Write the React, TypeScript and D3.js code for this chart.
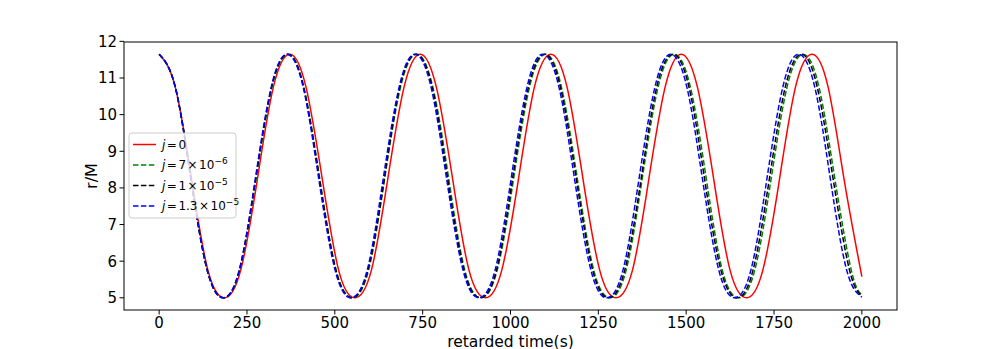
import React from "react";
import * as d3 from "d3";

// retarded time samples (s) and r/M, one pair per series
const tRed = [0, 46, 93, 139, 186, 232, 279, 325, 372, 418, 465, 511, 557, 604, 650, 697, 743, 789, 836, 882, 929, 975, 1022, 1068, 1115, 1161, 1207, 1254, 1300, 1347, 1393, 1440, 1486, 1532, 1579, 1625, 1672, 1718, 1765, 1811, 1858, 1904, 1950, 2000];
const rRed = [11.65, 10.75, 8.2, 5.75, 5.0, 5.75, 8.2, 10.75, 11.65, 10.75, 8.2, 5.75, 5.0, 5.75, 8.2, 10.75, 11.65, 10.75, 8.2, 5.75, 5.0, 5.75, 8.2, 10.75, 11.65, 10.75, 8.2, 5.75, 5.0, 5.75, 8.2, 10.75, 11.65, 10.75, 8.2, 5.75, 5.0, 5.75, 8.2, 10.75, 11.65, 10.75, 8.2, 5.58];

const tGreen = [0, 46, 92, 137, 183, 229, 275, 321, 367, 412, 458, 504, 550, 596, 641, 687, 733, 779, 825, 870, 916, 962, 1008, 1054, 1100, 1145, 1191, 1237, 1283, 1329, 1374, 1420, 1466, 1512, 1558, 1603, 1649, 1695, 1741, 1787, 1833, 1878, 1924, 1970, 2000];
const rGreen = [11.65, 10.75, 8.2, 5.75, 5.0, 5.75, 8.2, 10.75, 11.65, 10.75, 8.2, 5.75, 5.0, 5.75, 8.2, 10.75, 11.65, 10.75, 8.2, 5.75, 5.0, 5.75, 8.2, 10.75, 11.65, 10.75, 8.2, 5.75, 5.0, 5.75, 8.2, 10.75, 11.65, 10.75, 8.2, 5.75, 5.0, 5.75, 8.2, 10.75, 11.65, 10.75, 8.2, 5.75, 5.08];

const tBlack = [0, 46, 91, 137, 183, 228, 274, 320, 366, 411, 457, 503, 548, 594, 640, 685, 731, 777, 822, 868, 914, 960, 1005, 1051, 1097, 1142, 1188, 1234, 1279, 1325, 1371, 1416, 1462, 1508, 1553, 1599, 1645, 1690, 1736, 1782, 1828, 1873, 1919, 1965, 2000];
const rBlack = [11.65, 10.75, 8.2, 5.75, 5.0, 5.75, 8.2, 10.75, 11.65, 10.75, 8.2, 5.75, 5.0, 5.75, 8.2, 10.75, 11.65, 10.75, 8.2, 5.75, 5.0, 5.75, 8.2, 10.75, 11.65, 10.75, 8.2, 5.75, 5.0, 5.75, 8.2, 10.75, 11.65, 10.75, 8.2, 5.75, 5.0, 5.75, 8.2, 10.75, 11.65, 10.75, 8.2, 5.75, 5.05];

const tBlue = [0, 46, 91, 137, 182, 228, 273, 319, 364, 410, 455, 501, 546, 592, 637, 683, 728, 774, 819, 865, 910, 956, 1001, 1047, 1092, 1138, 1183, 1229, 1274, 1320, 1365, 1411, 1456, 1502, 1547, 1593, 1638, 1684, 1729, 1775, 1820, 1866, 1911, 1957, 2000];
const rBlue = [11.65, 10.75, 8.2, 5.75, 5.0, 5.75, 8.2, 10.75, 11.65, 10.75, 8.2, 5.75, 5.0, 5.75, 8.2, 10.75, 11.65, 10.75, 8.2, 5.75, 5.0, 5.75, 8.2, 10.75, 11.65, 10.75, 8.2, 5.75, 5.0, 5.75, 8.2, 10.75, 11.65, 10.75, 8.2, 5.75, 5.0, 5.75, 8.2, 10.75, 11.65, 10.75, 8.2, 5.75, 5.02];

const xTicks = [0, 250, 500, 750, 1000, 1250, 1500, 1750, 2000];
const yTicks = [5, 6, 7, 8, 9, 10, 11, 12];

const series = [
  { t: tRed, r: rRed, color: "#ff0000", dash: null, base: "0", exp: null },
  { t: tGreen, r: rGreen, color: "#008000", dash: "5.5,2.4", base: "7", exp: "\u22126" },
  { t: tBlack, r: rBlack, color: "#000000", dash: "5.5,2.4", base: "1", exp: "\u22125" },
  { t: tBlue, r: rBlue, color: "#0000ff", dash: "5.5,2.4", base: "1.3", exp: "\u22125" },
];

const W = 997;
const H = 349;
const left = 124, right = 897, top = 42, bottom = 310;
const font = "DejaVu Sans, sans-serif";

export default function App() {
  const x = d3.scaleLinear().domain([-100, 2100]).range([left, right]);
  const y = d3.scaleLinear().domain([4.6675, 11.9825]).range([bottom, top]);

  const line = (t: number[], r: number[]) =>
    d3
      .line<number>()
      .x((d, i) => x(t[i]))
      .y((d) => y(d))
      .curve(d3.curveNatural)(r) || "";

  return (
    <svg width={W} height={H} style={{ position: "absolute", left: 0, top: 0, background: "#fff" }} fontFamily={font}>
      <defs>
        <clipPath id="plot">
          <rect x={left} y={top} width={right - left} height={bottom - top} />
        </clipPath>
      </defs>
      <g clipPath="url(#plot)">
        {series.map((s, i) => (
          <path key={i} d={line(s.t, s.r)} fill="none" stroke={s.color} strokeWidth={1.5}
            strokeDasharray={s.dash || undefined} />
        ))}
      </g>
      <rect x={left} y={top} width={right - left} height={bottom - top} fill="none" stroke="#000" strokeWidth={1} />

      {xTicks.map((v) => (
        <g key={v} transform={`translate(${x(v)},${bottom})`}>
          <line y2={4.5} stroke="#000" />
          <text y={18} textAnchor="middle" fontSize={15}>{v}</text>
        </g>
      ))}
      {yTicks.map((v) => (
        <g key={v} transform={`translate(${left},${y(v)})`}>
          <line x2={-4.5} stroke="#000" />
          <text x={-7} dy="0.36em" textAnchor="end" fontSize={15}>{v}</text>
        </g>
      ))}

      <text x={(left + right) / 2} y={346.5} textAnchor="middle" fontSize={15.5}>retarded time(s)</text>
      <text transform={`translate(${97},${(top + bottom) / 2}) rotate(-90)`} textAnchor="middle" fontSize={16}>r/M</text>

      <g>
        <rect x={129} y={133} width={107} height={85} rx={3} fill="#fff" fillOpacity={0.8} stroke="#cccccc" />
        {series.map((s, i) => {
          const ly = 144.5 + i * 20.5;
          return (
            <g key={i}>
              <line x1={133} x2={156} y1={ly} y2={ly} stroke={s.color} strokeWidth={1.5}
                strokeDasharray={s.dash || undefined} />
              <text x={162} y={ly} dy="0.36em" fontSize={12}>
                <tspan fontStyle="italic">j</tspan>
                <tspan dx={1.5}>=</tspan>
                <tspan dx={1.5}>{s.base}</tspan>
                {s.exp && <tspan dx={1.5}>{"\u00d7"}</tspan>}
                {s.exp && <tspan dx={1.5}>10</tspan>}
                {s.exp && <tspan dy={-5} fontSize={9}>{s.exp}</tspan>}
              </text>
            </g>
          );
        })}
      </g>
    </svg>
  );
}
